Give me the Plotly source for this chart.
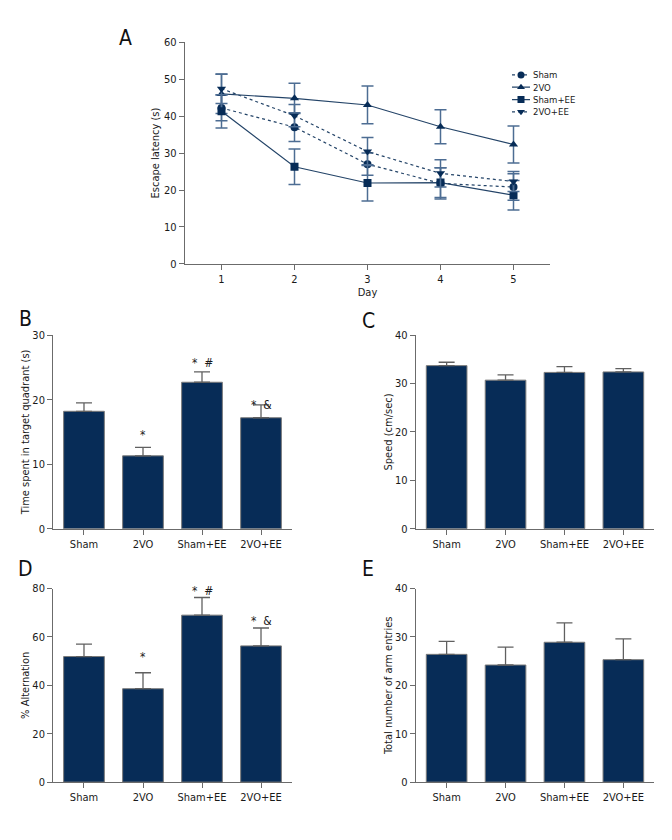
import plotly.graph_objects as go

# ---------------- Data ----------------
days = [1, 2, 3, 4, 5]
sham_lat = [42.2, 37.0, 27.0, 21.8, 20.8]
sham_lat_err = [3.5, 3.9, 3.0, 4.2, 3.6]
vo_lat = [46.0, 44.8, 43.0, 37.1, 32.3]
vo_lat_err = [5.3, 4.1, 5.1, 4.6, 5.0]
shamee_lat = [41.3, 26.3, 21.9, 22.0, 18.6]
shamee_lat_err = [4.5, 4.8, 4.9, 4.0, 4.0]
voee_lat = [47.4, 40.1, 30.4, 24.5, 22.3]
voee_lat_err = [4.0, 3.0, 3.8, 3.7, 2.7]

groups = ["Sham", "2VO", "Sham+EE", "2VO+EE"]
time_target = [18.2, 11.3, 22.7, 17.2]
time_target_err = [1.3, 1.3, 1.6, 2.0]
speed = [33.7, 30.7, 32.3, 32.4]
speed_err = [0.7, 1.1, 1.2, 0.7]
alternation = [51.9, 38.6, 69.0, 56.3]
alternation_err = [5.1, 6.6, 7.3, 7.4]
arm_entries = [26.4, 24.2, 28.9, 25.3]
arm_entries_err = [2.7, 3.7, 4.0, 4.3]

sig_B = ["", "*", "*\u00a0\u00a0#", "*\u00a0\u00a0&"]
sig_B_y = [None, 14.6, 27.1, 20.6]
sig_D = ["", "*", "*\u00a0\u00a0#", "*\u00a0\u00a0&"]
sig_D_y = [None, 51.8, 82.7, 70.5]

# ---------------- Style ----------------
FONT = "Liberation Sans Narrow, DejaVu Sans Condensed, Arial Narrow, sans-serif"
NAVY = "#072c57"
LINE = "#244468"
ERRA = "#4d6d93"
AXC = "#6b6b6b"
TXT = "#1a1a1a"

W, H = 672, 840
def px_x(a, b):
    return [a / W, b / W]
def px_y(top, bottom):
    return [1 - bottom / H, 1 - top / H]

fig = go.Figure()

# ---------------- Panel A ----------------
series = [
    ("Sham", sham_lat, sham_lat_err, "circle", "dot"),
    ("2VO", vo_lat, vo_lat_err, "triangle-up", "solid"),
    ("Sham+EE", shamee_lat, shamee_lat_err, "square", "solid"),
    ("2VO+EE", voee_lat, voee_lat_err, "triangle-down", "dot"),
]
for name, vals, errs, sym, dash in series:
    fig.add_trace(go.Scatter(
        x=days, y=vals, mode="lines+markers", name=name,
        line=dict(color=LINE, width=1.2, dash=dash),
        marker=dict(symbol=sym, size=8, color=NAVY),
        error_y=dict(type="data", array=errs, color=ERRA, thickness=1.5, width=6),
        xaxis="x", yaxis="y", showlegend=False,
    ))

# manual compact legend (like the reference)
for i, (name, vals, errs, sym, dash) in enumerate(series):
    fig.add_trace(go.Scatter(
        x=[0, 1.8], y=[-i, -i], mode="lines",
        line=dict(color=LINE, width=1.2, dash=dash),
        xaxis="x6", yaxis="y6", showlegend=False, hoverinfo="skip"))
    fig.add_trace(go.Scatter(
        x=[0.9], y=[-i], mode="markers",
        marker=dict(symbol=sym, size=7, color=NAVY),
        xaxis="x6", yaxis="y6", showlegend=False, hoverinfo="skip"))
    fig.add_annotation(x=2.0, y=-i, xref="x6", yref="y6", text=name,
                       showarrow=False, xanchor="left", yanchor="middle", borderpad=0,
                       font=dict(family=FONT, size=9.5, color=TXT))

# ---------------- Bar panels ----------------
bar_panels = [
    ("x2", "y2", time_target, time_target_err),
    ("x3", "y3", speed, speed_err),
    ("x4", "y4", alternation, alternation_err),
    ("x5", "y5", arm_entries, arm_entries_err),
]
for xa, ya, vals, errs in bar_panels:
    fig.add_trace(go.Bar(
        x=groups, y=vals, width=0.69,
        marker=dict(color=NAVY, line=dict(color="#7a7a7a", width=1)),
        error_y=dict(type="data", symmetric=False, array=errs,
                     arrayminus=[0] * len(errs), color="#606060",
                     thickness=1.3, width=8),
        xaxis=xa, yaxis=ya, showlegend=False))

B_MAX, D_MAX = 30, 80
for g, t, yv in zip(groups, sig_B, sig_B_y):
    if t:
        fig.add_annotation(x=g, y=yv / B_MAX, xref="x2", yref="y2 domain", text=t,
                           showarrow=False, font=dict(family=FONT, size=12, color=TXT))
for g, t, yv in zip(groups, sig_D, sig_D_y):
    if t:
        fig.add_annotation(x=g, y=yv / D_MAX, xref="x4", yref="y4 domain", text=t,
                           showarrow=False, font=dict(family=FONT, size=12, color=TXT))

# ---------------- Axes ----------------
tickfont = dict(family=FONT, size=11, color=TXT)
titlefont = dict(family=FONT, size=11, color=TXT)

def axis(**kw):
    base = dict(showline=True, linecolor=AXC, linewidth=1.3, ticks="outside",
                ticklen=5, tickcolor=AXC, tickwidth=1.2, showgrid=False,
                zeroline=False, tickfont=tickfont)
    base.update(kw)
    return base

cat_range = [-0.52, 3.52]

fig.update_layout(
    width=W, height=H, margin=dict(l=0, r=0, t=0, b=0),
    paper_bgcolor="white", plot_bgcolor="white",
    xaxis=axis(domain=px_x(185, 550), range=[0.5, 5.5], tickvals=days,
               title=dict(text="Day", font=titlefont, standoff=2), anchor="y"),
    yaxis=axis(domain=px_y(36.7, 262), range=[0, 60], dtick=10,
               title=dict(text="Escape latency (s)", font=titlefont, standoff=2), anchor="x"),
    xaxis2=axis(domain=px_x(53.3, 291.7), range=cat_range, anchor="y2"),
    yaxis2=axis(domain=px_y(334.3, 531), range=[0, B_MAX], dtick=10, anchor="x2",
                title=dict(text="Time spent in target quadrant (s)", font=titlefont, standoff=0)),
    xaxis3=axis(domain=px_x(416, 654), range=cat_range, anchor="y3"),
    yaxis3=axis(domain=px_y(334.3, 531), range=[0, 40], dtick=10, anchor="x3",
                title=dict(text="Speed (cm/sec)", font=titlefont, standoff=0)),
    xaxis4=axis(domain=px_x(53.3, 291.7), range=cat_range, anchor="y4"),
    yaxis4=axis(domain=px_y(591.7, 788.3), range=[0, D_MAX], dtick=20, anchor="x4",
                title=dict(text="% Alternation", font=titlefont, standoff=0)),
    xaxis5=axis(domain=px_x(416, 654), range=cat_range, anchor="y5"),
    yaxis5=axis(domain=px_y(591.7, 788.3), range=[0, 40], dtick=10, anchor="x5",
                title=dict(text="Total number of arm entries", font=titlefont, standoff=0)),
    xaxis6=dict(domain=px_x(512, 592), range=[0, 8], visible=False, anchor="y6"),
    yaxis6=dict(domain=px_y(63.75, 113.75), range=[-3.5, 0.5], visible=False, anchor="x6"),
)

# panel letters
for txt, x, y in [("A", 125, 33), ("B", 25, 318), ("C", 368, 320), ("D", 25, 572), ("E", 368, 572)]:
    fig.add_annotation(x=x / W, y=1 - y / H, xref="paper", yref="paper", text=txt,
                       showarrow=False, xanchor="center", yanchor="middle",
                       font=dict(family=FONT, size=21, color="#111"))

fig.write_html("out.html", config={"displayModeBar": False},
               post_script="document.body.style.margin='0';")
